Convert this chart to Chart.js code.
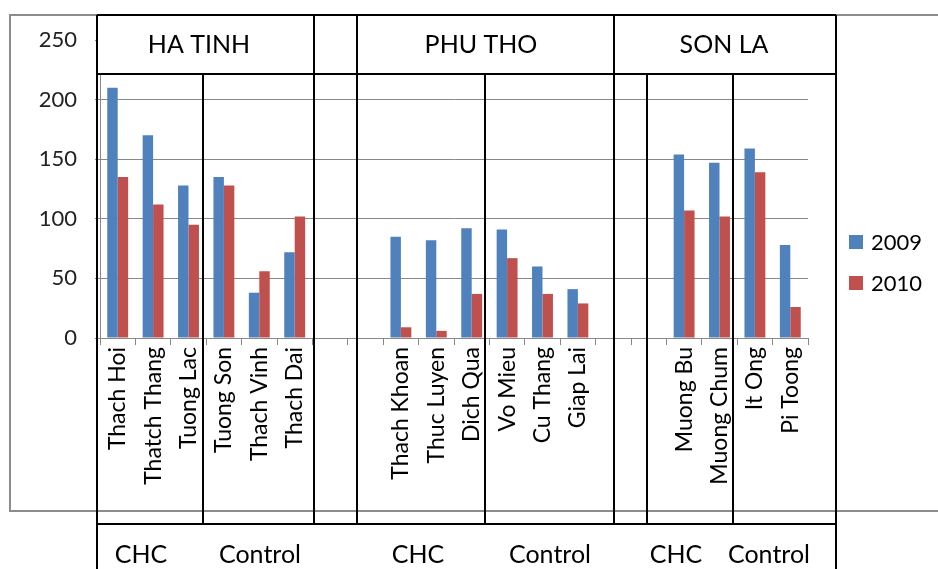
<!DOCTYPE html>
<html>
<head>
<meta charset="utf-8">
<script src="https://cdn.jsdelivr.net/npm/chart.js@4/dist/chart.umd.min.js"></script>
<style>
    body { margin: 0; background: #fff; }
    canvas { display: block; }
</style>
</head>
<body>
<canvas id="villageChart" width="938" height="569"></canvas>
<script>
// villages along the axis, blanks are the gaps between provinces
const categories = ['Thach Hoi', 'Thatch Thang', 'Tuong Lac', 'Tuong Son', 'Thach Vinh', 'Thach Dai', '', '',
    'Thach Khoan', 'Thuc Luyen', 'Dich Qua', 'Vo Mieu', 'Cu Thang', 'Giap Lai', '', '',
    'Muong Bu', 'Muong Chum', 'It Ong', 'Pi Toong'];
const values2009 = [210, 170, 128, 135, 38, 72, null, null, 85, 82, 92, 91, 60, 41, null, null, 154, 147, 159, 78];
const values2010 = [135, 112, 95, 128, 56, 102, null, null, 9, 6, 37, 67, 37, 29, null, null, 107, 102, 139, 26];
const seriesNames = ['2009', '2010'];
const provinces = ['HA TINH', 'PHU THO', 'SON LA'];
const groups = ['CHC', 'Control', 'CHC', 'Control', 'CHC', 'Control'];
const yMax = 250;
const yStep = 50;

const seriesColours = ['#4F81BD', '#C0504D'];
const textFont = 'Lato, "Open Sans", sans-serif';

// the table drawn over the chart (header row, group columns, bottom row)
const tablePlugin = {
    id: 'table',
    beforeDraw(chart) {
        const ctx = chart.ctx;
        ctx.save();
        ctx.fillStyle = '#fff';
        ctx.fillRect(0, 0, chart.width, chart.height);
        ctx.strokeStyle = '#8c8c8c';
        ctx.lineWidth = 2;
        ctx.strokeRect(10, 15, chart.width + 20, 496);
        ctx.restore();
    },
    afterDraw(chart) {
        const ctx = chart.ctx;
        ctx.save();
        // header cells are white
        ctx.fillStyle = '#fff';
        ctx.fillRect(97, 15, 739, 59);

        ctx.strokeStyle = '#000';
        ctx.lineWidth = 2;
        const line = (x1, y1, x2, y2) => {
            ctx.beginPath();
            ctx.moveTo(x1, y1);
            ctx.lineTo(x2, y2);
            ctx.stroke();
        };
        line(97, 15, 836, 15);
        line(97, 74, 836, 74);
        line(97, 524, 836, 524);
        [97, 836].forEach(x => line(x, 15, x, 569));
        [314, 357, 614].forEach(x => line(x, 15, x, 524));
        [203, 485, 647, 733].forEach(x => line(x, 74, x, 524));

        ctx.fillStyle = '#000';
        ctx.textAlign = 'center';
        ctx.textBaseline = 'middle';
        ctx.font = '25px ' + textFont;
        [199, 481, 724].forEach((x, i) => ctx.fillText(provinces[i], x, 45));
        [141, 260, 418, 550, 676, 769].forEach((x, i) => ctx.fillText(groups[i], x, 555));

        // legend
        ctx.font = '22px ' + textFont;
        ctx.textAlign = 'left';
        seriesNames.forEach((name, i) => {
            const y = 242 + i * 41;
            ctx.fillStyle = seriesColours[i];
            ctx.fillRect(849, y - 7, 14, 14);
            ctx.fillStyle = '#000';
            ctx.fillText(name, 871, y + 1);
        });
        ctx.restore();
    }
};

const ctx = document.getElementById('villageChart').getContext('2d');
const chart = new Chart(ctx, {
    type: 'bar',
    data: {
        labels: categories,
        datasets: [
            { label: seriesNames[0], data: values2009, backgroundColor: seriesColours[0] },
            { label: seriesNames[1], data: values2010, backgroundColor: seriesColours[1] }
        ]
    },
    options: {
        responsive: false,
        animation: false,
        categoryPercentage: 0.59,
        barPercentage: 1.0,
        layout: { padding: { left: 10, top: 40, right: 130, bottom: 0 } },
        plugins: {
            legend: { display: false },
            tooltip: { enabled: false }
        },
        scales: {
            x: {
                grid: { drawOnChartArea: false, color: '#888', tickLength: 7 },
                border: { color: '#888' },
                ticks: {
                    autoSkip: false,
                    maxRotation: 90,
                    minRotation: 90,
                    padding: 2,
                    color: '#000',
                    font: { family: textFont, size: 23 }
                },
                afterFit: scale => { scale.height = 231; }
            },
            y: {
                min: 0,
                max: yMax,
                grid: { color: '#888', tickLength: 5 },
                border: { color: '#888' },
                ticks: {
                    stepSize: yStep,
                    padding: 18,
                    color: '#222',
                    font: { family: textFont, size: 22 }
                },
                afterFit: scale => { scale.width = 90; }
            }
        }
    },
    plugins: [tablePlugin]
});
</script>
</body>
</html>
